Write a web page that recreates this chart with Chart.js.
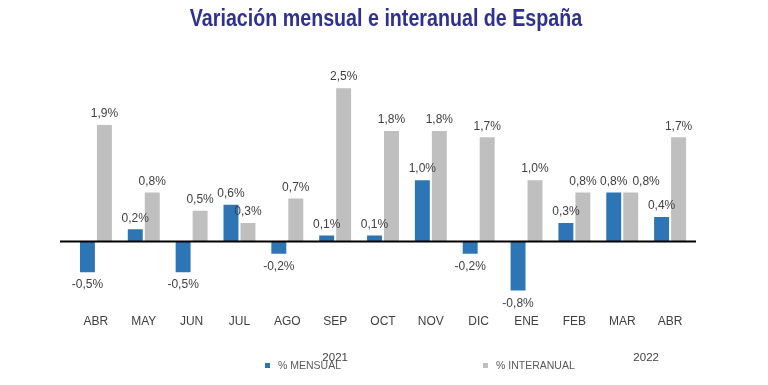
<!DOCTYPE html>
<html>
<head>
<meta charset="utf-8">
<script src="https://cdn.jsdelivr.net/npm/chart.js@4.4.0/dist/chart.umd.min.js"></script>
<style>
  html, body { margin: 0; padding: 0; background: #fff; }
  #wrap { width: 768px; height: 385px; position: relative; }
</style>
</head>
<body>
<div id="wrap"><canvas id="chart"></canvas></div>
<script>
const months = ['ABR', 'MAY', 'JUN', 'JUL', 'AGO', 'SEP', 'OCT', 'NOV', 'DIC', 'ENE', 'FEB', 'MAR', 'ABR'];
const mensual = [-0.5, 0.2, -0.5, 0.6, -0.2, 0.1, 0.1, 1.0, -0.2, -0.8, 0.3, 0.8, 0.4];
const interanual = [1.9, 0.8, 0.5, 0.3, 0.7, 2.5, 1.8, 1.8, 1.7, 1.0, 0.8, 0.8, 1.7];
const seriesNames = ['% MENSUAL', '% INTERANUAL'];
const years = ['2021', '2022'];
const yearAt = [5, 11.5];   // category index under which each year sits
const titleText = 'Variación mensual e interanual de España';

const FONT = '"Liberation Sans", Arial, sans-serif';
const BLUE = '#2E75B6';
const GREY = '#BFBFBF';

function fmt(v) {
    return v.toFixed(1).replace('.', ',') + '%';
}

// title, value labels, zero line, year labels and legend
const extras = {
    id: 'extras',
    afterDatasetsDraw(chart) {
        const ctx = chart.ctx;
        const xs = chart.scales.x;
        const ys = chart.scales.y;
        const area = chart.chartArea;
        const y0 = ys.getPixelForValue(0);
        ctx.save();

        // condensed-looking bold title
        ctx.save();
        ctx.font = 'bold 23px ' + FONT;
        ctx.fillStyle = '#2E3192';
        ctx.textAlign = 'center';
        ctx.textBaseline = 'middle';
        ctx.translate(386, 20);
        ctx.scale(0.855, 1);
        ctx.fillText(titleText, 0, 0);
        ctx.restore();

        ctx.strokeStyle = '#000';
        ctx.lineWidth = 2;
        ctx.beginPath();
        ctx.moveTo(area.left - 12, y0);
        ctx.lineTo(area.right + 2, y0);
        ctx.stroke();

        ctx.font = '12px ' + FONT;
        ctx.fillStyle = '#404040';
        ctx.textAlign = 'center';
        const metaA = chart.getDatasetMeta(0).data;
        const metaB = chart.getDatasetMeta(1).data;
        months.forEach((m, j) => {
            const a = mensual[j], b = interanual[j];
            const ta = fmt(a), tb = fmt(b);
            const xa = metaA[j].x;
            let xb = metaB[j].x;
            const ya = a >= 0 ? metaA[j].y - 11 : metaA[j].y + 13;
            const yb = b >= 0 ? metaB[j].y - 11 : metaB[j].y + 13;
            // push the second label sideways when both would collide
            const wa = ctx.measureText(ta).width, wb = ctx.measureText(tb).width;
            if (Math.abs(ya - yb) < 12 && xb - xa < (wa + wb) / 2 + 5) {
                xb = xa + (wa + wb) / 2 + 5;
            }
            ctx.textBaseline = 'middle';
            ctx.fillText(ta, xa, ya);
            ctx.fillText(tb, xb, yb);
        });

        ctx.font = '11.5px ' + FONT;
        ctx.textBaseline = 'middle';
        years.forEach((yr, i) => {
            const lo = Math.floor(yearAt[i]);
            const hi = Math.ceil(yearAt[i]);
            const px = (xs.getPixelForValue(lo) + xs.getPixelForValue(hi)) / 2;
            ctx.fillText(yr, px, 358);
        });

        ctx.font = '10.5px ' + FONT;
        ctx.textAlign = 'left';
        const legendX = [265, 483];
        [BLUE, GREY].forEach((c, i) => {
            ctx.fillStyle = c;
            ctx.fillRect(legendX[i], 363, 5, 5);
            ctx.fillStyle = '#595959';
            ctx.fillText(seriesNames[i], legendX[i] + 13, 366);
        });

        ctx.restore();
    }
};

new Chart(document.getElementById('chart'), {
    type: 'bar',
    data: {
        labels: months,
        datasets: [{
            label: seriesNames[0],
            data: mensual,
            backgroundColor: BLUE,
            categoryPercentage: 0.71,
            barPercentage: 0.88
        }, {
            label: seriesNames[1],
            data: interanual,
            backgroundColor: GREY,
            categoryPercentage: 0.71,
            barPercentage: 0.88
        }]
    },
    options: {
        responsive: true,
        maintainAspectRatio: false,
        animation: false,
        layout: {
            padding: { left: 72, right: 74, top: 57.5, bottom: 51 }
        },
        plugins: {
            legend: { display: false },
            tooltip: { enabled: false },
            title: { display: false }
        },
        scales: {
            x: {
                grid: { display: false, drawTicks: false },
                border: { display: false },
                ticks: {
                    color: '#404040',
                    font: { family: FONT, size: 12 },
                    padding: 5,
                    maxRotation: 0,
                    autoSkip: false
                }
            },
            y: {
                display: false,
                min: -1.11,
                max: 3.0
            }
        }
    },
    plugins: [extras]
});
</script>
</body>
</html>
